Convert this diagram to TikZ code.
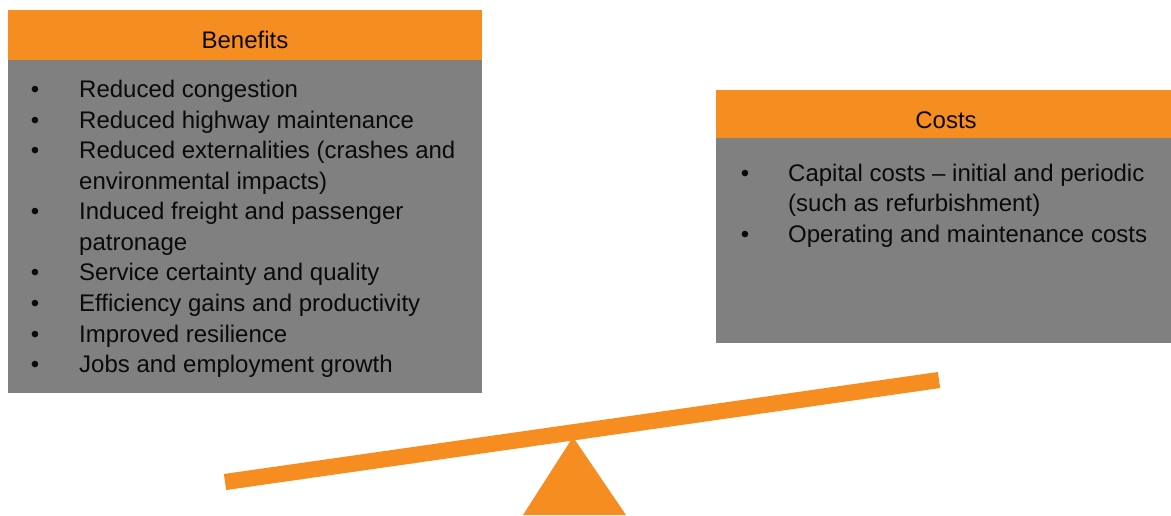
\documentclass[tikz,border=0pt]{standalone}
\usepackage{fontspec}
\setmainfont{Liberation Sans}
\definecolor{hdrorange}{HTML}{F68D21}
\definecolor{bodygray}{HTML}{808080}
\definecolor{txt}{HTML}{0A0A0A}
\begin{document}
\begin{tikzpicture}[x=1pt,y=-1pt,
  hdr/.style={fill=hdrorange, draw=none, inner sep=0pt, anchor=north west},
  body/.style={fill=bodygray, draw=none, inner sep=0pt, anchor=north west},
  lbl/.style={inner sep=0pt, text=txt, font=\fontsize{24}{28}\selectfont},
  line/.style={lbl, anchor=base west},
  bul/.style={lbl, anchor=base}]
\useasboundingbox (0,0) rectangle (1171,515);
% Benefits box
\node[hdr, minimum width=474pt, minimum height=50pt] (bh) at (8,10) {};
\node[body, minimum width=474pt, minimum height=333pt] (bb) at (8,60) {};
\node[lbl, anchor=base] (bt) at (245,48) {Benefits};
\foreach \y/\t [count=\i] in {97/Reduced congestion,128/Reduced highway maintenance,158.5/Reduced externalities (crashes and,189/environmental impacts),219.5/Induced freight and passenger,250/patronage,280.5/Service certainty and quality,311/Efficiency gains and productivity,342/Improved resilience,372.5/Jobs and employment growth}
  \node[line] (b\i) at (79,\y) {\t};
\foreach \y [count=\i] in {97,128,158.5,219.5,280.5,311,342,372.5}
  \node[bul] (bd\i) at (35,\y) {•};
% Costs box
\node[hdr, minimum width=456pt, minimum height=48pt] (ch) at (716,89.5) {};
\node[body, minimum width=456pt, minimum height=205pt] (cb) at (716,137.5) {};
\node[lbl, anchor=base] (ct) at (946,128) {Costs};
\node[line] (c1) at (788,181) {Capital costs – initial and periodic};
\node[line] (c2) at (788,211.5) {(such as refurbishment)};
\node[line] (c3) at (788,242) {Operating and maintenance costs};
\node[bul] (cd1) at (745,181) {•};
\node[bul] (cd2) at (745,242) {•};
% Seesaw
\coordinate (apex) at (573,437);
\coordinate (bl) at (523,515);
\coordinate (br) at (626,515);
\fill[hdrorange] (apex) -- (br) -- (bl) -- cycle;
\coordinate (beamL) at (225,482);
\coordinate (beamR) at (939,380);
\draw[hdrorange, line width=16.2pt] (beamL) -- (beamR);
\end{tikzpicture}
\end{document}
